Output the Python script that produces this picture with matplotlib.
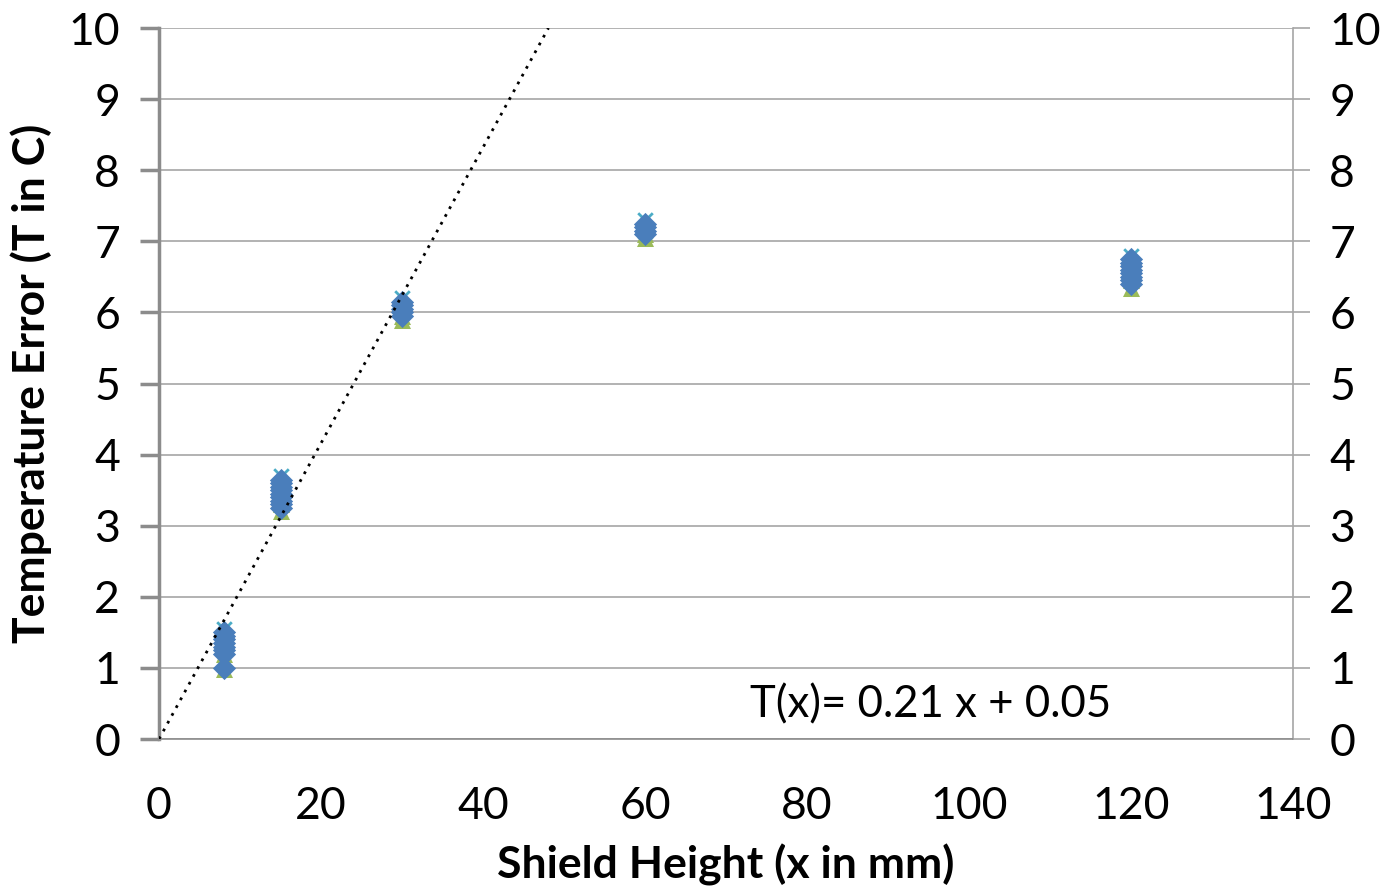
import numpy as np
import matplotlib
matplotlib.use('Agg')
from matplotlib import pyplot as plt

plt.rcParams['font.family'] = ['Lato', 'DejaVu Sans']

# shield heights (mm) and error readings per series
heights = [8, 15, 30, 60, 120]
series_diamond = [[1.0, 1.2, 1.25, 1.3, 1.35, 1.4, 1.45, 1.5],
                  [3.25, 3.3, 3.35, 3.4, 3.45, 3.5, 3.55, 3.6, 3.65],
                  [5.95, 6.0, 6.05, 6.1, 6.15],
                  [7.1, 7.15, 7.2, 7.25],
                  [6.4, 6.45, 6.5, 6.55, 6.6, 6.65, 6.7, 6.75]]
series_triangle = [[0.98, 1.2, 1.3], [3.2, 3.3], [5.9, 5.95], [7.05, 7.1], [6.35, 6.45]]
series_cross = [[1.1, 1.4, 1.55], [3.3, 3.5, 3.7], [6.0, 6.2], [7.15, 7.3], [6.5, 6.8]]
# fitted line as drawn (unrounded), and the label printed on the chart
fit_slope = 0.208
fit_intercept = 0.0
eq_text = 'T(x)= 0.21 x + 0.05'

fig = plt.figure(figsize=(13.85, 8.92), dpi=100)
ax = fig.add_axes([0.1148, 0.1715, 0.8188, 0.7971])

for i, x in enumerate(heights):
    ax.scatter([x]*len(series_triangle[i]), series_triangle[i], marker='^', s=150,
               color='#9bbb59', zorder=3, linewidths=0)
    ax.scatter([x]*len(series_cross[i]), series_cross[i], marker='x', s=110,
               color='#4bacc6', zorder=3, linewidths=2)
    ax.scatter([x]*len(series_diamond[i]), series_diamond[i], marker='D', s=140,
               color='#4a7ebb', zorder=4, linewidths=0)

# trend line
xe = (10 - fit_intercept) / fit_slope
xs = np.array([0, xe])
ax.plot(xs, fit_slope*xs + fit_intercept, color='black', linestyle=(0, (1, 2.2)),
        lw=2, zorder=5)

ax.set_xlim(0, 140)
ax.set_ylim(0, 10)
ax.set_xticks(range(0, 141, 20))
ax.set_yticks(range(0, 11))
ax.grid(axis='y', color='#a6a6a6', lw=1.2)
ax.set_axisbelow(True)
ax.spines['top'].set_visible(False)
ax.spines['left'].set_color('#8c8c8c')
ax.spines['left'].set_linewidth(2.5)
ax.spines['bottom'].set_color('#8c8c8c')
ax.spines['bottom'].set_linewidth(1.2)
ax.spines['right'].set_color('#a6a6a6')
ax.spines['right'].set_linewidth(1.2)
ax.tick_params(axis='y', direction='out', length=14, width=2.5, color='#8c8c8c',
               labelsize=32, pad=14)
ax.tick_params(axis='x', length=0, labelsize=32, pad=34)

ax2 = ax.twinx()
ax2.set_ylim(0, 10)
ax2.set_yticks(range(0, 11))
for s in ['top', 'left', 'bottom', 'right']:
    ax2.spines[s].set_visible(False)
ax2.tick_params(axis='y', direction='out', length=12, width=1.2, color='#a6a6a6',
                labelsize=32, pad=14)

ax.set_xlabel('Shield Height (x in mm)', fontsize=32, fontweight='bold', labelpad=12)
ax.set_ylabel('Temperature Error (T in C)', fontsize=32, fontweight='bold', labelpad=12)
ax.text(73, 0.48, eq_text, fontsize=31.5, va='center', ha='left')

fig.savefig('out.png', dpi=100)
